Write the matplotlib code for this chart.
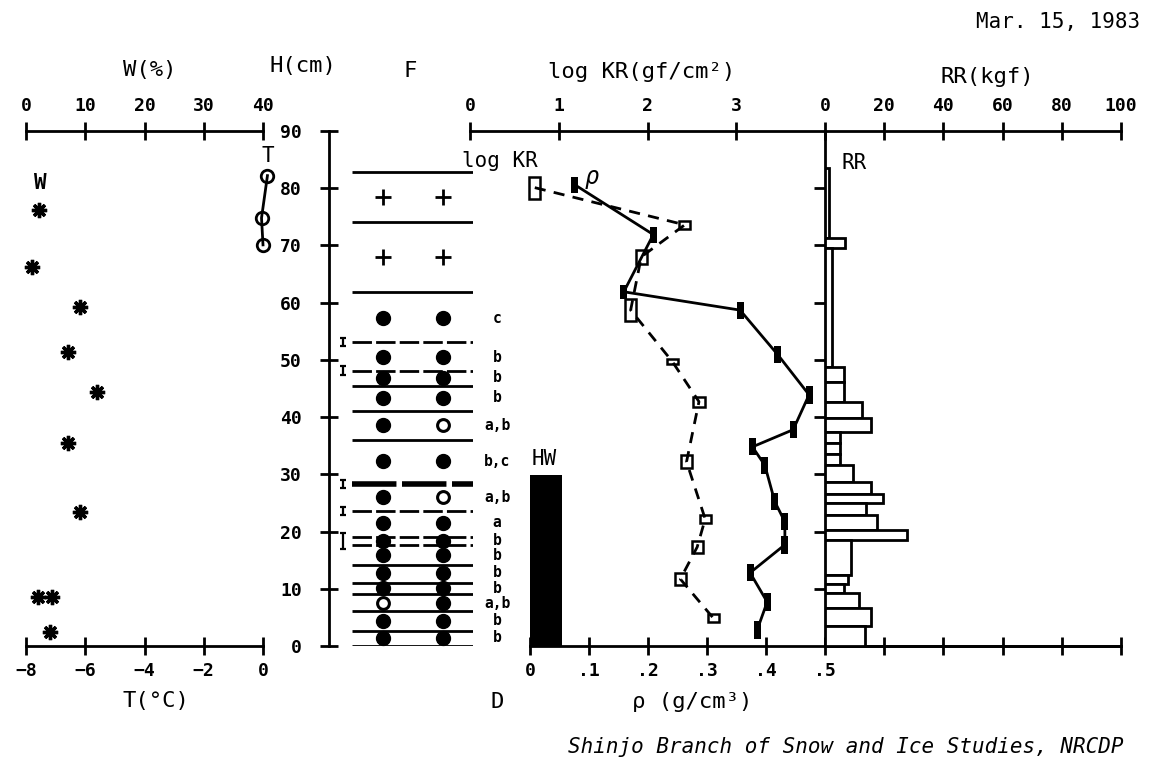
import numpy as np
import matplotlib
matplotlib.use('Agg')
import matplotlib.pyplot as plt

# 積雪断面観測 (Mar. 15, 1983) の再現

W_PX, H_PX = 1160, 762

# 含水率 W(%)
w_h = [76.2, 66.3, 59.3, 51.4, 44.4, 35.5, 23.4, 8.6, 8.6, 2.5]
w_val = [2.2, 1.0, 9.1, 7.1, 12.0, 7.1, 9.1, 2.0, 4.4, 4.1]

# 雪温 T(°C)
t_h = [82.2, 74.8, 70.1]
t_val = [0.15, -0.05, 0.0]

# 層境界 (cm)
layer_h = [82.9, 74.1, 61.9, 53.1, 48.1, 45.5, 41.1, 36.0, 28.3,
           23.6, 19.1, 17.7, 14.2, 11.0, 9.1, 6.1, 2.6, 0.0]
ice_lines = [53.1, 48.1, 23.6, 19.1, 17.7]
crust_lines = [28.3]
ice_h = [53.1, 48.1, 28.3, 23.6, 18.4]
ice_dh = [1.5, 1.5, 1.5, 1.5, 2.8]

# 雪質 F (2種) と粒径 D
grain_h = [78.5, 68.0, 57.3, 50.5, 46.9, 43.4, 38.6, 32.3, 26.0,
           21.5, 18.4, 15.9, 12.8, 10.1, 7.5, 4.4, 1.4]
grain_1 = ['+', '+', '●', '●', '●', '●', '●', '●', '●',
           '●', '●', '●', '●', '●', '○', '●', '●']
grain_2 = ['+', '+', '●', '●', '●', '●', '○', '●', '○',
           '●', '●', '●', '●', '●', '●', '●', '●']
grain_d = ['', '', 'c', 'b', 'b', 'b', 'a,b', 'b,c', 'a,b',
           'a', 'b', 'b', 'b', 'b', 'a,b', 'b', 'b']

# 硬度 log KR(gf/cm2)
kr_h = [80.1, 73.6, 68.0, 58.7, 49.7, 42.7, 32.2, 22.2, 17.3, 11.7, 4.9]
kr_val = [0.73, 2.42, 1.93, 1.81, 2.28, 2.58, 2.44, 2.65, 2.56, 2.37, 2.74]
kr_dh = [3.8, 1.5, 2.4, 3.8, 1.0, 1.7, 2.3, 1.5, 2.2, 2.2, 1.4]

# 密度 rho(g/cm3)
rho_h = [80.6, 71.9, 61.9, 58.7, 50.9, 43.9, 37.8, 34.8, 31.6,
         25.2, 21.7, 17.7, 12.8, 7.7, 2.8]
rho_val = [0.076, 0.209, 0.159, 0.356, 0.420, 0.473, 0.446, 0.377, 0.398,
           0.415, 0.432, 0.432, 0.373, 0.402, 0.385]
rho_dh = [2.8, 2.8, 2.4, 3.0, 3.0, 3.2, 3.0, 3.0, 3.0,
          3.0, 3.0, 3.2, 3.0, 3.0, 3.0]

# 含水層 HW
hw_top = 29.9
hw_width = 0.054

# ラム硬度 RR(kgf)
rr_edges = [83.6, 71.3, 69.6, 48.8, 46.2, 42.7, 39.9, 37.4, 35.5, 33.6, 31.6,
            28.7, 26.6, 25.0, 22.9, 20.3, 18.5, 12.4, 10.8, 9.3, 6.6, 3.5, 0.0]
rr_val = [1.2, 6.7, 2.4, 6.4, 6.4, 12.5, 15.5, 5.0, 5.0, 5.0, 9.5,
          15.5, 19.5, 14.0, 17.5, 27.7, 8.8, 7.7, 6.4, 11.5, 15.5, 13.5]

plt.rcParams['font.family'] = ['DejaVu Sans Mono', 'DejaVu Sans']

fig = plt.figure(figsize=(W_PX / 100, H_PX / 100), dpi=100)

Y_TOP, Y_BOT = 131, 646
LW = 2.0


def rect(x0, x1):
    return [x0 / W_PX, 1 - Y_BOT / H_PX, (x1 - x0) / W_PX, (Y_BOT - Y_TOP) / H_PX]


def px(x, y):
    return x / W_PX, 1 - y / H_PX


def bare(ax, keep=()):
    ax.set_facecolor('none')
    for side in ['top', 'bottom', 'left', 'right']:
        ax.spines[side].set_visible(side in keep)
        ax.spines[side].set_linewidth(LW)
    ax.set_ylim(0, 90)
    ax.tick_params(axis='both', which='both', length=0,
                   labelleft=False, labelbottom=False, labeltop=False, labelright=False)


tick_font = dict(family='DejaVu Sans Mono', weight='bold', size=13)


def top_ticks(ax, ticks, labels):
    ax.xaxis.set_ticks_position('top')
    ax.set_xticks(ticks)
    ax.set_xticklabels(labels, fontdict=tick_font)
    ax.tick_params(axis='x', top=True, labeltop=True, bottom=False, labelbottom=False,
                   direction='inout', length=13, width=LW, pad=5)


def bottom_ticks(ax, ticks, labels, show=True):
    ax.xaxis.set_ticks_position('bottom')
    ax.set_xticks(ticks)
    ax.set_xticklabels(labels, fontdict=tick_font)
    ax.tick_params(axis='x', bottom=True, labelbottom=show, top=False, labeltop=False,
                   direction='inout', length=13, width=LW, pad=5)


# --- W / T ---
ax_w = fig.add_axes(rect(26, 263), label='w')
bare(ax_w, keep=('top',))
ax_w.set_xlim(0, 40)
top_ticks(ax_w, [0, 10, 20, 30, 40], ['0', '10', '20', '30', '40'])
ax_w.plot(w_val, w_h, ls='none', marker=(8, 2, 0), ms=11, mew=2.4, color='k', clip_on=False)
ax_w.text(2.4, 80.9, 'W', fontsize=15, fontweight='bold', ha='center', va='center')

ax_t = fig.add_axes(rect(26, 263), label='t')
bare(ax_t, keep=('bottom',))
ax_t.set_xlim(-8, 0)
bottom_ticks(ax_t, [-8, -6, -4, -2, 0], ['−8', '−6', '−4', '−2', '0'])
ax_t.plot(t_val, t_h, color='k', lw=LW, marker='o', ms=9, mfc='none', mew=LW, clip_on=False)
ax_t.text(0.17, 85.6, 'T', fontsize=15, ha='center', va='center')

# --- H axis and layer column F ---
ax_f = fig.add_axes(rect(329, 473), label='f')
bare(ax_f, keep=('left',))
ax_f.set_xlim(0, 1)
ax_f.set_yticks(range(0, 91, 10))
ax_f.set_yticklabels([str(v) for v in range(0, 91, 10)], fontdict=tick_font)
ax_f.tick_params(axis='y', left=True, labelleft=True, direction='inout',
                 length=13, width=LW, pad=13)

for h in layer_h:
    if h in crust_lines:
        ax_f.hlines(h, 0.16, 1.0, color='k', lw=4.0, linestyles=(0, (8, 1)))
    elif h in ice_lines:
        ax_f.hlines(h, 0.16, 1.0, color='k', lw=LW, linestyles=(0, (7, 1.5)))
    else:
        ax_f.hlines(h, 0.16, 1.0, color='k', lw=LW)

ax_f.errorbar([0.098] * len(ice_h), ice_h, yerr=np.array(ice_dh) / 2, fmt='none',
              ecolor='k', elinewidth=1.6, capsize=2.5, capthick=1.6)

sym_style = {
    '+': dict(marker='+', ms=12, mew=2.0, color='k'),
    '●': dict(marker='o', ms=10, mfc='k', mec='k'),
    '○': dict(marker='o', ms=8.5, mfc='white', mec='k', mew=2.2),
}
for h, s1, s2, d in zip(grain_h, grain_1, grain_2, grain_d):
    ax_f.plot(0.378, h, ls='none', **sym_style[s1])
    ax_f.plot(0.79, h, ls='none', **sym_style[s2])
    if d:
        ax_f.text(1.167, h, d, fontsize=10.5, fontweight='bold', ha='center', va='center',
                  clip_on=False)

# --- log KR ---
ax_kr = fig.add_axes(rect(470, 825), label='kr')
bare(ax_kr, keep=('top',))
ax_kr.set_xlim(0, 4)
top_ticks(ax_kr, [0, 1, 2, 3], ['0', '1', '2', '3'])
ax_kr.plot(kr_val, kr_h, color='k', lw=LW, ls=(0, (4, 3)), zorder=2)
ax_kr.bar(kr_val, kr_dh, bottom=np.array(kr_h) - np.array(kr_dh) / 2, width=0.125,
          facecolor='none', edgecolor='k', lw=1.8, zorder=3)
ax_kr.text(0.34, 84.8, 'log KR', fontsize=15, ha='center', va='center')

# --- rho ---
ax_rho = fig.add_axes(rect(530, 825), label='rho')
bare(ax_rho, keep=('bottom',))
ax_rho.set_xlim(0, 0.5)
bottom_ticks(ax_rho, [0, 0.1, 0.2, 0.3, 0.4, 0.5], ['0', '.1', '.2', '.3', '.4', '.5'])
ax_rho.bar(0, hw_top, width=hw_width, align='edge', color='k')
ax_rho.text(0.024, 32.6, 'HW', fontsize=15, ha='center', va='center')
ax_rho.plot(rho_val, rho_h, color='k', lw=LW, zorder=2)
ax_rho.bar(rho_val, rho_dh, bottom=np.array(rho_h) - np.array(rho_dh) / 2, width=0.012,
           color='k', zorder=3)
ax_rho.text(0.105, 82.0, 'ρ', fontsize=17, fontstyle='italic', ha='center', va='center')

# --- RR ---
ax_rr = fig.add_axes(rect(825, 1121), label='rr')
bare(ax_rr, keep=('top', 'bottom', 'left'))
ax_rr.set_xlim(0, 100)
top_ticks(ax_rr, [0, 20, 40, 60, 80, 100], ['0', '20', '40', '60', '80', '100'])
ax_rr.spines['bottom'].set_visible(True)
sec = ax_rr.secondary_xaxis('bottom')
sec.set_xticks([20, 40, 60, 80, 100])
sec.tick_params(axis='x', direction='inout', length=13, width=LW, labelbottom=False)
sec.spines['bottom'].set_linewidth(LW)
ax_rr.set_yticks(range(10, 81, 10))
ax_rr.tick_params(axis='y', left=True, direction='out', length=8, width=LW, labelleft=False)
edges = np.array(rr_edges)
ax_rr.barh((edges[:-1] + edges[1:]) / 2, rr_val, height=edges[:-1] - edges[1:], left=0,
           facecolor='white', edgecolor='k', lw=LW, zorder=3)
ax_rr.text(9.8, 84.4, 'RR', fontsize=15, ha='center', va='center')

# --- titles ---
title_font = dict(fontsize=16, ha='center', va='center')
fig.text(*px(150, 70), 'W(%)', **title_font)
fig.text(*px(303, 66), 'H(cm)', **title_font)
fig.text(*px(410, 71), 'F', **title_font)
fig.text(*px(642, 72), 'log KR(gf/cm²)', **title_font)
fig.text(*px(987, 77), 'RR(kgf)', **title_font)
fig.text(*px(156, 701), 'T(°C)', **title_font)
fig.text(*px(497, 702), 'D', **title_font)
fig.text(*px(692, 702), 'ρ (g/cm³)', **title_font)
fig.text(*px(1140, 22), 'Mar. 15, 1983', fontsize=15, ha='right', va='center')
fig.text(*px(1123, 747), 'Shinjo Branch of Snow and Ice Studies, NRCDP',
         fontsize=15, fontstyle='italic', ha='right', va='center')

fig.savefig('out.png', dpi=100)
